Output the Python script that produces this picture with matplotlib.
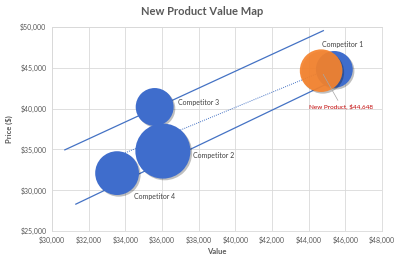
import matplotlib
matplotlib.use("Agg")
import matplotlib.pyplot as plt
import matplotlib.patheffects as pe
import numpy as np

# ---- data ----
competitors = ["Competitor 1", "Competitor 2", "Competitor 3", "Competitor 4"]
comp_value = [45400, 36050, 35600, 33550]
comp_price = [44800, 34800, 40200, 32100]
comp_size = [340, 760, 360, 480]

new_name = "New Product"
new_value = [44680]
new_price = [44648]
new_size = [455]

upper_x = [30700, 44800]
upper_y = [34950, 49550]
lower_x = [31300, 45800]
lower_y = [28300, 43900]

x_ticks = list(range(30000, 48001, 2000))
y_ticks = list(range(25000, 50001, 5000))

# ---- figure ----
plt.rcParams['font.family'] = ['Lato', 'DejaVu Sans']
fig = plt.figure(figsize=(4.0, 2.62), dpi=100)
ax = fig.add_axes([0.13, 0.118, 0.825, 0.779])
ax.set_xlim(30000, 48000)
ax.set_ylim(25000, 50000)

grid_c = "#D9D9D9"
txt_c = "#595959"
blue = "#3F6DCC"
orange = "#F5832E"
line_c = "#4472C4"

ax.set_xticks(x_ticks)
ax.set_yticks(y_ticks)
ax.set_xticklabels([f"${v:,}" for v in x_ticks])
ax.set_yticklabels([f"${v:,}" for v in y_ticks])
ax.tick_params(length=0, labelsize=5, colors=txt_c, pad=4)
ax.grid(True, color=grid_c, linewidth=0.6, zorder=0)
for s in ax.spines.values():
    s.set_color(grid_c)
    s.set_linewidth(0.6)

# lines
ax.plot(upper_x, upper_y, color=line_c, lw=0.9, zorder=2)
ax.plot(lower_x, lower_y, color=line_c, lw=0.9, zorder=2)
k, b = np.polyfit(comp_value, comp_price, 1)
tx = np.array([min(comp_value), max(comp_value)])
ax.plot(tx, k * tx + b, color=line_c, lw=0.7, ls=(0, (1, 1.2)), zorder=2)

scale = 2.07
shadow = [pe.SimplePatchShadow(offset=(1.2, -1.2), shadow_rgbFace="#000000", alpha=0.25), pe.Normal()]
ax.scatter(comp_value, comp_price, s=np.array(comp_size) * scale, color=blue,
           edgecolors="none", zorder=3, path_effects=shadow)
ax.scatter(new_value, new_price, s=np.array(new_size) * scale, color=orange,
           edgecolors="none", zorder=4, alpha=0.93, path_effects=shadow)

# labels
lab_off = [(-8.6, 18), (21.6, -3), (16.5, 3), (12, -16.5)]
for n, x, y, o in zip(competitors, comp_value, comp_price, lab_off):
    ax.annotate(n, (x, y), xytext=o, textcoords="offset points", fontsize=5,
                color="#404040", ha="left", va="center", zorder=6)

ax.annotate(f"{new_name}, ${new_price[0]:,}", (new_value[0], new_price[0]),
            xytext=(14.4, -25.5), textcoords="offset points", fontsize=4.6,
            color="#C00000", ha="center", va="center", zorder=6,
            arrowprops=dict(arrowstyle="-", color="#A6A6A6", lw=0.5,
                            shrinkA=0, shrinkB=3))

ax.set_xlabel("Value", fontsize=5.5, color=txt_c, fontweight="bold", labelpad=3)
ax.set_ylabel("Price ($)", fontsize=5.5, color=txt_c, fontweight="bold", labelpad=5)
fig.text(0.505, 0.955, "New Product Value Map", ha="center", va="center",
         fontsize=8, color=txt_c, fontweight="bold")

fig.savefig("out.png", dpi=100)
